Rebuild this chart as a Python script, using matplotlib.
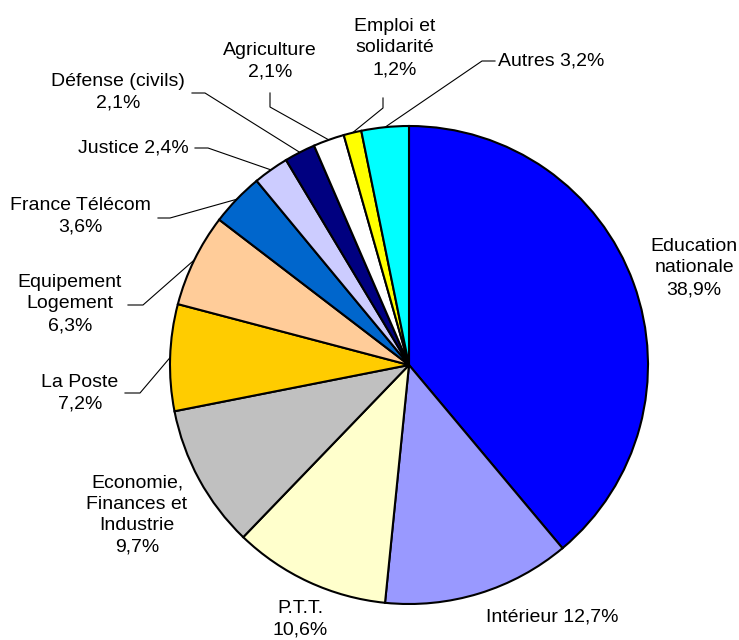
import numpy as np
import matplotlib.pyplot as plt

plt.rcParams['font.family'] = ['Liberation Sans', 'DejaVu Sans']

# Répartition des effectifs par ministère (%)
ministeres = ['Education\nnationale', 'Intérieur', 'P.T.T.',
              'Economie,\nFinances et\nIndustrie', 'La Poste',
              'Equipement\nLogement', 'France Télécom', 'Justice',
              'Défense (civils)', 'Agriculture', 'Emploi et\nsolidarité', 'Autres']
parts = [38.9, 12.7, 10.6, 9.7, 7.2, 6.3, 3.6, 2.4, 2.1, 2.1, 1.2, 3.2]
couleurs = ['#0000FF', '#9999FF', '#FFFFCC', '#C0C0C0', '#FFCC00', '#FFCC99',
            '#0066CC', '#CCCCFF', '#000080', '#FFFFFF', '#FFFF00', '#00FFFF']
# séparateur entre nom et pourcentage
sep = ['\n', ' ', '\n', '\n', '\n', '\n', '\n', ' ', '\n', '\n', '\n', ' ']

W, H = 739, 640
fig = plt.figure(figsize=(W / 100, H / 100), dpi=100)
ax = fig.add_axes([0, 0, 1, 1])


def py(y):
    # coordonnées pixel (depuis le haut) -> coordonnées axes
    return H - y


cx, cy, r = 409, py(365), 239
wedges, _ = ax.pie(parts, colors=couleurs, startangle=90, counterclock=False,
                   center=(cx, cy), radius=r, frame=True,
                   wedgeprops=dict(edgecolor='black', linewidth=1.5))
ax.set_xlim(0, W)
ax.set_ylim(0, H)
ax.set_aspect('equal')
ax.axis('off')

# position du texte (centre, pixels) et alignement
pos_txt = [(694, 268, 'center'), (552, 617, 'center'), (300, 619, 'center'),
           (137, 515, 'center'), (80, 393, 'center'), (70, 304, 'center'),
           (80, 216, 'center'), (133, 148, 'center'), (118, 92, 'center'),
           (270, 61, 'center'), (395, 48, 'center'), (498, 61, 'left')]

# lignes de rappel : (début côté texte, coude) ; None = pas de ligne
rappels = [None, None, None, None,
           ((125, 393), (140, 393)), ((128, 305), (143, 305)),
           ((158, 218), (170, 218)), ((195, 148), (208, 148)),
           ((192, 93), (205, 93)), ((270, 93), (270, 107)),
           ((383, 98), (383, 108)), ((495, 61), (482, 61))]

for i, (nom, v) in enumerate(zip(ministeres, parts)):
    x, y, ha = pos_txt[i]
    txt = nom + sep[i] + f"{v:.1f}".replace('.', ',') + '%'
    ax.text(x, py(y), txt, ha=ha, va='center', fontsize=14,
            linespacing=1.35, multialignment='center')
    if rappels[i] is not None:
        w = wedges[i]
        ang = np.deg2rad((w.theta1 + w.theta2) / 2)
        ex, ey = cx + r * np.cos(ang), cy + r * np.sin(ang)
        (x0, y0), (x1, y1) = rappels[i]
        ax.plot([x0, x1, ex], [py(y0), py(y1), ey], color='black', lw=0.8,
                zorder=0.5)

fig.savefig('out.png', dpi=100, facecolor='white')
